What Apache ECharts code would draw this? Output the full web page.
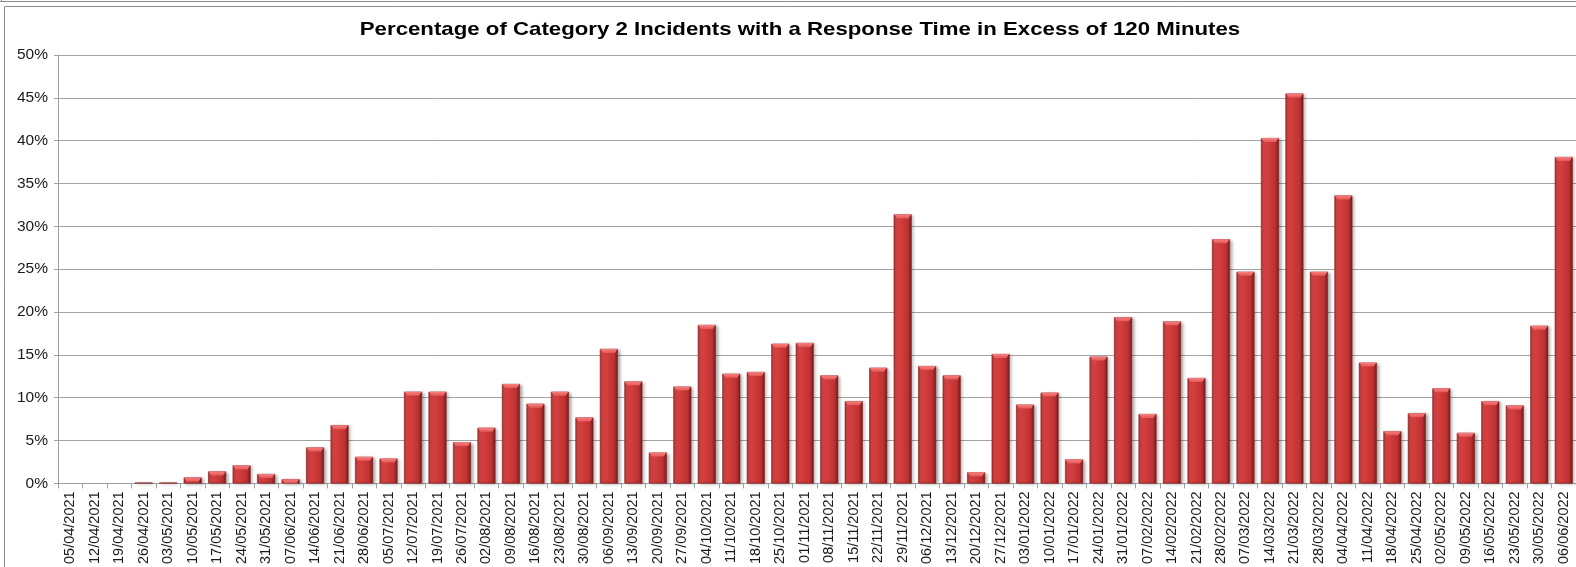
<!DOCTYPE html>
<html>
<head>
<meta charset="utf-8">
<script src="https://cdn.jsdelivr.net/npm/echarts@6/dist/echarts.min.js"></script>
<style>
  html, body { margin: 0; padding: 0; background: #ffffff; }
  #chart { width: 1576px; height: 567px; }
</style>
</head>
<body>
<div id="chart"></div>
<script>
// Week commencing dates
const weeks = [
  '05/04/2021', '12/04/2021', '19/04/2021', '26/04/2021', '03/05/2021', '10/05/2021',
  '17/05/2021', '24/05/2021', '31/05/2021', '07/06/2021', '14/06/2021', '21/06/2021',
  '28/06/2021', '05/07/2021', '12/07/2021', '19/07/2021', '26/07/2021', '02/08/2021',
  '09/08/2021', '16/08/2021', '23/08/2021', '30/08/2021', '06/09/2021', '13/09/2021',
  '20/09/2021', '27/09/2021', '04/10/2021', '11/10/2021', '18/10/2021', '25/10/2021',
  '01/11/2021', '08/11/2021', '15/11/2021', '22/11/2021', '29/11/2021', '06/12/2021',
  '13/12/2021', '20/12/2021', '27/12/2021', '03/01/2022', '10/01/2022', '17/01/2022',
  '24/01/2022', '31/01/2022', '07/02/2022', '14/02/2022', '21/02/2022', '28/02/2022',
  '07/03/2022', '14/03/2022', '21/03/2022', '28/03/2022', '04/04/2022', '11/04/2022',
  '18/04/2022', '25/04/2022', '02/05/2022', '09/05/2022', '16/05/2022', '23/05/2022',
  '30/05/2022', '06/06/2022'
];

// Percentage of Category 2 incidents over 120 minutes, per week
const pctOver120 = [
  0, 0, 0, 0.1, 0.1, 0.7,
  1.4, 2.1, 1.1, 0.5, 4.2, 6.8,
  3.1, 2.9, 10.7, 10.7, 4.8, 6.5,
  11.6, 9.3, 10.7, 7.7, 15.7, 11.9,
  3.6, 11.3, 18.5, 12.8, 13.0, 16.3,
  16.4, 12.6, 9.6, 13.5, 31.4, 13.7,
  12.6, 1.3, 15.1, 9.2, 10.6, 2.8,
  14.8, 19.4, 8.1, 18.9, 12.3, 28.5,
  24.7, 40.3, 45.5, 24.7, 33.6, 14.1,
  6.1, 8.2, 11.1, 5.9, 9.6, 9.1,
  18.4, 38.1
];

// Value axis ticks (percent)
const yTicks = { min: 0, max: 50, interval: 5 };

const chartTitle = 'Percentage of Category 2 Incidents with a Response Time in Excess of 120 Minutes';

const chart = echarts.init(document.getElementById('chart'), null, { renderer: 'canvas' });

const barW = 18;
const font = 'Liberation Sans, Arial, sans-serif';
const gridGrey = '#a3a3a3';

// weeks with no incidents over the threshold get no outline or shadow
const barData = pctOver120.map(v => (v === 0
  ? { value: 0, itemStyle: { borderWidth: 0, shadowBlur: 0, shadowOffsetX: 0, shadowOffsetY: 0 } }
  : v));

// bevelled highlight on top of each bar (skip the near-empty weeks)
const capData = pctOver120.map(v => (v >= 0.5 ? v : '-'));

chart.setOption({
  backgroundColor: '#ffffff',
  animation: false,
  graphic: [
    { type: 'line', shape: { x1: 0, y1: 1.5, x2: 1576, y2: 1.5 }, style: { stroke: '#8c8c8c', lineWidth: 1 } },
    { type: 'line', shape: { x1: 1.5, y1: 0, x2: 1.5, y2: 2 }, style: { stroke: '#8c8c8c', lineWidth: 1 } },
    { type: 'rect', shape: { x: 4.5, y: 6.5, width: 1700, height: 700 }, style: { fill: 'none', stroke: '#8c8c8c', lineWidth: 1 } },
    {
      type: 'text', x: 800, y: 30, scaleX: 1.17,
      style: {
        text: chartTitle, fill: '#000000',
        font: 'bold 19px Liberation Sans, Arial, sans-serif',
        textAlign: 'center', textVerticalAlign: 'middle'
      }
    }
  ],
  grid: { left: 58, right: 0, top: 55, bottom: 83, containLabel: false },
  xAxis: {
    type: 'category',
    data: weeks,
    boundaryGap: true,
    axisLine: { show: true, lineStyle: { color: '#a0a0a0', width: 1 } },
    axisTick: { show: true, length: 5, interval: 0, lineStyle: { color: '#a0a0a0' } },
    axisLabel: {
      interval: 0, rotate: 90, margin: 8,
      fontFamily: font, fontSize: 14.5, color: '#1a1a1a'
    },
    splitLine: { show: false }
  },
  yAxis: {
    type: 'value',
    min: yTicks.min, max: yTicks.max, interval: yTicks.interval,
    axisLine: { show: true, lineStyle: { color: '#a0a0a0', width: 1 } },
    axisTick: { show: true, length: 4, lineStyle: { color: '#a0a0a0' } },
    axisLabel: {
      formatter: '{value}%', margin: 10,
      fontFamily: font, fontSize: 15.5, color: '#1a1a1a'
    },
    splitLine: { show: true, lineStyle: { color: gridGrey, width: 1 } }
  },
  series: [
    {
      name: '% over 120 minutes',
      type: 'bar',
      data: barData,
      barWidth: barW,
      barGap: '-100%',
      itemStyle: {
        color: new echarts.graphic.LinearGradient(0, 0, 1, 0, [
          { offset: 0, color: '#a22828' },
          { offset: 0.12, color: '#d64444' },
          { offset: 0.4, color: '#d23c3c' },
          { offset: 0.78, color: '#be3232' },
          { offset: 1, color: '#761a1a' }
        ]),
        borderColor: '#882222',
        borderWidth: 0.6,
        shadowColor: 'rgba(0,0,0,0.32)',
        shadowBlur: 3,
        shadowOffsetX: 2,
        shadowOffsetY: 1
      }
    },
    {
      name: 'cap',
      type: 'pictorialBar',
      data: capData,
      barWidth: barW,
      barGap: '-100%',
      symbol: 'path://M0,0 L20,0 L17,4 L3,4 Z',
      symbolSize: [barW - 1, 4],
      symbolPosition: 'end',
      symbolOffset: [0, 0],
      z: 3,
      silent: true,
      itemStyle: {
        color: new echarts.graphic.LinearGradient(0, 0, 0, 1, [
          { offset: 0, color: '#f58080' },
          { offset: 1, color: '#e65858' }
        ])
      }
    }
  ]
});
</script>
</body>
</html>
